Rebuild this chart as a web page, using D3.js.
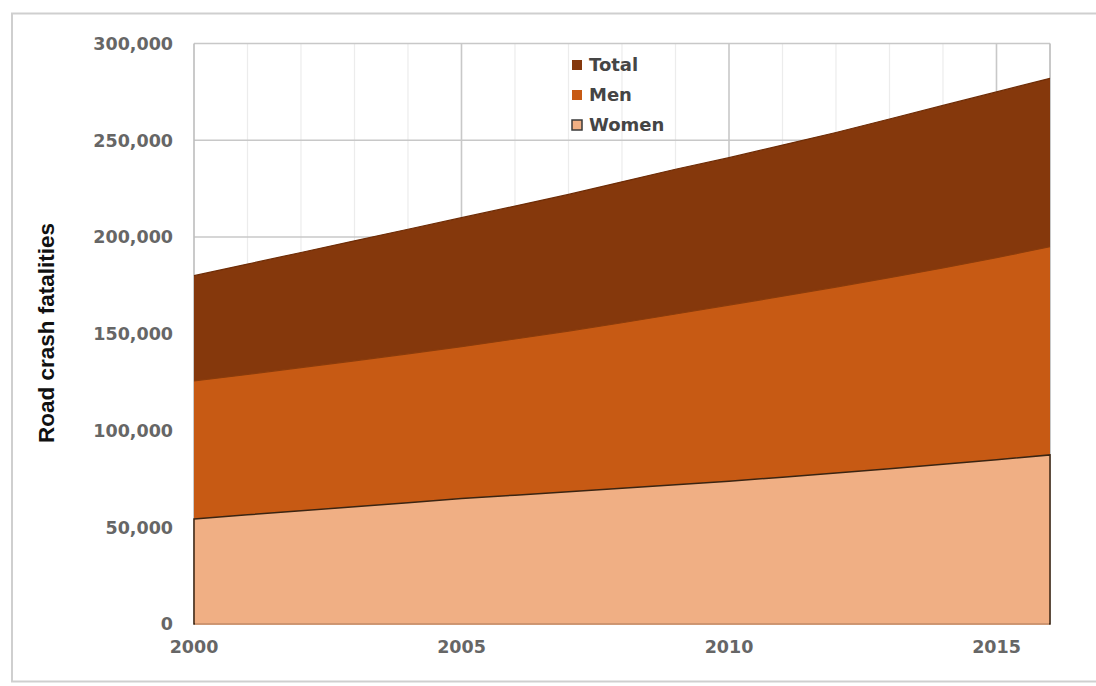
<!DOCTYPE html>
<html><head><meta charset="utf-8">
<script src="https://cdn.jsdelivr.net/npm/d3@7"></script>
<style>
html,body{margin:0;padding:0;background:#fff;}
svg{display:block;}
</style></head>
<body>
<svg id="c" width="1096" height="686"></svg>
<script>
const years = [2000,2001,2002,2003,2004,2005,2006,2007,2008,2009,2010,2011,2012,2013,2014,2015,2016];
const totalValues = [180000,186000,192000,198000,204000,210000,216000,222000,228500,235000,241000,247500,254000,261000,268000,275000,282000];
const menValues = [125600,129000,132500,136000,139600,143300,147300,151400,155700,160200,164800,169400,174100,179000,184000,189300,195000];
const womenValues = [54300,56400,58500,60600,62700,64800,66600,68400,70200,72000,73800,75900,78000,80200,82500,84900,87400];
const yTicks = [0,50000,100000,150000,200000,250000,300000];
const xTicks = [2000,2005,2010,2015];
const seriesNames = ["Total","Men","Women"];

const svg = d3.select("#c");
const W = 1096, H = 686;
const m = {left:194, right:46, top:43.5, bottom:62};

// outer frame
svg.append("rect").attr("x",12).attr("y",13.5).attr("width",1100).attr("height",668)
  .attr("fill","none").attr("stroke","#cfcfcf").attr("stroke-width",2);

const x = d3.scaleLinear().domain([2000,2016]).range([m.left, W - m.right]);
const y = d3.scaleLinear().domain([0,300000]).range([H - m.bottom, m.top]);

// minor vertical gridlines (every year)
svg.append("g").selectAll("line").data(years.filter(v => xTicks.indexOf(v) < 0))
  .join("line").attr("x1",d=>x(d)).attr("x2",d=>x(d)).attr("y1",y(0)).attr("y2",y(300000))
  .attr("stroke","#ececec").attr("stroke-width",1.2);
// major vertical gridlines
svg.append("g").selectAll("line").data(xTicks.filter(v=>v>2000))
  .join("line").attr("x1",d=>x(d)).attr("x2",d=>x(d)).attr("y1",y(0)).attr("y2",y(300000))
  .attr("stroke","#c8c8c8").attr("stroke-width",1.6);
// horizontal gridlines
svg.append("g").selectAll("line").data(yTicks.filter(v=>v>0))
  .join("line").attr("x1",x(2000)).attr("x2",x(2016)).attr("y1",d=>y(d)).attr("y2",d=>y(d))
  .attr("stroke","#c8c8c8").attr("stroke-width",1.6);
// plot frame right & left
svg.append("line").attr("x1",x(2016)).attr("x2",x(2016)).attr("y1",y(0)).attr("y2",y(300000))
  .attr("stroke","#bdbdbd").attr("stroke-width",1.6);
svg.append("line").attr("x1",x(2000)).attr("x2",x(2000)).attr("y1",y(0)).attr("y2",y(300000))
  .attr("stroke","#bdbdbd").attr("stroke-width",1.6);

const mk = vals => years.map((yr,i)=>({yr, v: vals[i]}));
const area = d3.area().x(d=>x(d.yr)).y0(y(0)).y1(d=>y(d.v)).curve(d3.curveLinear);
const line = d3.line().x(d=>x(d.yr)).y(d=>y(d.v)).curve(d3.curveLinear);

const colors = {Total:"#85380c", Men:"#c75a14", Women:"#f0af84"};
const dataBy = {Total: mk(totalValues), Men: mk(menValues), Women: mk(womenValues)};

svg.append("path").datum(dataBy.Total).attr("d",area).attr("fill",colors.Total);
svg.append("path").datum(dataBy.Total).attr("d",line).attr("fill","none").attr("stroke","#6e2c06").attr("stroke-width",1.2);
svg.append("path").datum(dataBy.Men).attr("d",area).attr("fill",colors.Men);
svg.append("path").datum(dataBy.Men).attr("d",line).attr("fill","none").attr("stroke","#8a3c0c").attr("stroke-width",1.2);
svg.append("path").datum(dataBy.Women).attr("d",area).attr("fill",colors.Women)
  .attr("stroke","#3a2412").attr("stroke-width",1.5);
// cover the bottom stroke of women area
svg.append("line").attr("x1",x(2000)+1).attr("x2",x(2016)-1).attr("y1",y(0)).attr("y2",y(0))
  .attr("stroke",colors.Women).attr("stroke-width",1.6);

// y tick labels
svg.append("g").selectAll("text").data(yTicks).join("text")
  .attr("x",173).attr("y",d=>y(d)).attr("dy","0.36em").attr("text-anchor","end")
  .attr("font-family","DejaVu Sans, sans-serif").attr("font-weight","bold").attr("font-size",17.5)
  .attr("fill","#666").text(d=>d3.format(",")(d));
// x tick labels
svg.append("g").selectAll("text").data(xTicks).join("text")
  .attr("x",d=>x(d)).attr("y",647).attr("dy","0.36em").attr("text-anchor","middle")
  .attr("font-family","DejaVu Sans, sans-serif").attr("font-weight","bold").attr("font-size",17.5)
  .attr("fill","#666").text(d=>d);

// y axis title
svg.append("text").attr("transform","translate(54,333) rotate(-90)")
  .attr("text-anchor","middle").attr("font-family","Liberation Sans, Arial, sans-serif")
  .attr("font-weight","bold").attr("font-size",22.5).attr("fill","#111").text("Road crash fatalities");

// legend
const lg = svg.append("g");
const legendY = [65,95,125];
seriesNames.forEach((n,i)=>{
  lg.append("rect").attr("x",572).attr("y",legendY[i]-5).attr("width",10).attr("height",10)
    .attr("fill",colors[n]).attr("stroke", n==="Women" ? "#3a3a3a" : "none").attr("stroke-width",1.5);
  lg.append("text").attr("x",589).attr("y",legendY[i]).attr("dy","0.36em")
    .attr("font-family","DejaVu Sans, sans-serif").attr("font-weight","bold").attr("font-size",18)
    .attr("fill","#454545").text(n);
});
</script>
</body></html>
